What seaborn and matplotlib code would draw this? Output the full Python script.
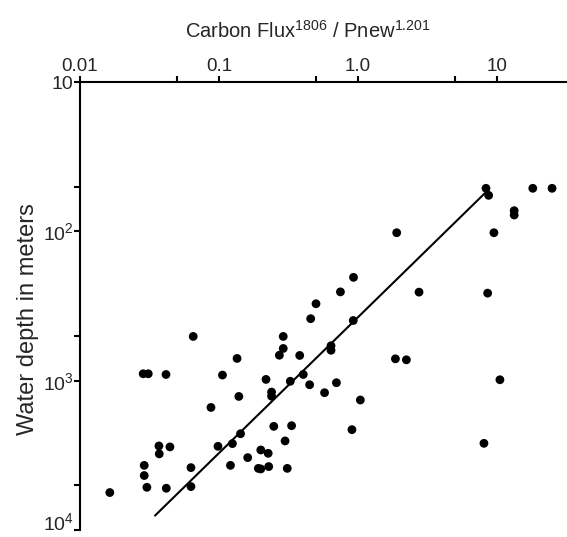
import pandas as pd
import seaborn as sns
import matplotlib.pyplot as plt
from matplotlib.ticker import FixedLocator, FixedFormatter, NullFormatter

# -------------------------
# Data
# -------------------------
flux_ratio = [
    0.0164, 0.0285, 0.031, 0.0416, 0.0653, 0.106, 0.135, 0.139, 0.0876,
    0.037, 0.0444, 0.0372, 0.029, 0.029, 0.0303, 0.0418, 0.0629, 0.0629,
    0.0984, 0.125, 0.121, 0.143, 0.161, 0.20, 0.226, 0.192, 0.20, 0.228,
    0.31, 0.248, 0.333, 0.299, 0.218, 0.239, 0.239, 0.326, 0.404, 0.449,
    0.575, 0.70, 0.290, 0.290, 0.272, 0.381, 0.457, 0.499, 0.748, 0.929,
    0.64, 0.64, 0.925, 1.04, 0.905, 1.90, 1.86, 2.23, 2.75, 8.34, 8.71,
    18.1, 24.9, 13.3, 13.3, 9.51, 8.57, 10.5, 8.06,
]
depth_m = [
    5610, 898, 898, 908, 505, 916, 709, 1274, 1510,
    2735, 2775, 3090, 3690, 4316, 5174, 5250, 3820, 5117,
    2750, 2637, 3690, 2264, 3273, 2909, 3063, 3864, 3899, 3758,
    3864, 2021, 2000, 2531, 980, 1191, 1270, 1008, 908, 1064,
    1203, 1031, 505, 608, 675, 677, 384, 305, 254, 203,
    583, 625, 395, 1346, 2127, 102, 713, 724, 255, 51.4, 57.3,
    51.4, 51.4, 72.6, 77.6, 102, 259, 985, 2626,
]

# regression line end points
fit_x = [0.0347, 8.34]
fit_y = [8000, 54.5]

x_ticks = [0.01, 0.1, 1.0, 10]
x_ticklabels = ["0.01", "0.1", "1.0", "10"]
x_minor = [0.05, 0.5, 5]
y_ticks = [10, 100, 1000, 10000]
y_ticklabels = ["10", "$10^2$", "$10^3$", "$10^4$"]
y_minor = [50, 500, 5000]

df = pd.DataFrame({"flux": flux_ratio, "depth": depth_m})

# -------------------------
# Style
# -------------------------
sns.set_theme(style="white")
plt.rcParams["font.family"] = ["Liberation Sans", "DejaVu Sans"]
plt.rcParams["mathtext.fontset"] = "custom"
plt.rcParams["mathtext.rm"] = "Liberation Sans"
plt.rcParams["mathtext.default"] = "rm"

fig = plt.figure(figsize=(5.67, 5.37), dpi=100)
ax = fig.add_axes([0.141, 0.013, 0.859, 0.834])

sns.scatterplot(data=df, x="flux", y="depth", color="black", s=40,
                edgecolor="none", ax=ax, zorder=3)
sns.lineplot(x=fit_x, y=fit_y, color="black", linewidth=1.5, ax=ax,
             sort=False, estimator=None)

ax.set_xscale("log")
ax.set_yscale("log")
ax.set_xlim(0.01, 31.9)
ax.set_ylim(1e4, 10)

# ---- Axes / spines
for side in ["bottom", "right"]:
    ax.spines[side].set_visible(False)
for side in ["top", "left"]:
    ax.spines[side].set_visible(True)
    ax.spines[side].set_linewidth(1.5)
    ax.spines[side].set_color("black")

ax.xaxis.tick_top()
ax.xaxis.set_label_position("top")
ax.xaxis.set_major_locator(FixedLocator(x_ticks))
ax.xaxis.set_major_formatter(FixedFormatter(x_ticklabels))
ax.xaxis.set_minor_locator(FixedLocator(x_minor))
ax.xaxis.set_minor_formatter(NullFormatter())
ax.yaxis.set_major_locator(FixedLocator(y_ticks))
ax.yaxis.set_major_formatter(FixedFormatter(y_ticklabels))
ax.yaxis.set_minor_locator(FixedLocator(y_minor))
ax.yaxis.set_minor_formatter(NullFormatter())

ax.tick_params(axis="x", which="both", top=True, bottom=False,
               labeltop=True, labelbottom=False, direction="out",
               length=4.5, width=1.5, color="black", pad=0.5, labelsize=13.5)
ax.tick_params(axis="y", which="both", left=True, right=False,
               direction="out", length=4, width=1.5, color="black",
               pad=0.5, labelsize=14)

# keep the bottom label inside the picture
ax.get_yticklabels()[-1].set_va("baseline")

ax.set_xlabel("Carbon Flux$^{1806}$ / Pnew$^{1.201}$", fontsize=14.5)
ax.xaxis.set_label_coords(0.468, 1.10)
ax.set_ylabel("Water depth in meters", fontsize=17)
ax.yaxis.set_label_coords(-0.085, 0.47)

plt.savefig("out.png", dpi=100)
plt.close()
